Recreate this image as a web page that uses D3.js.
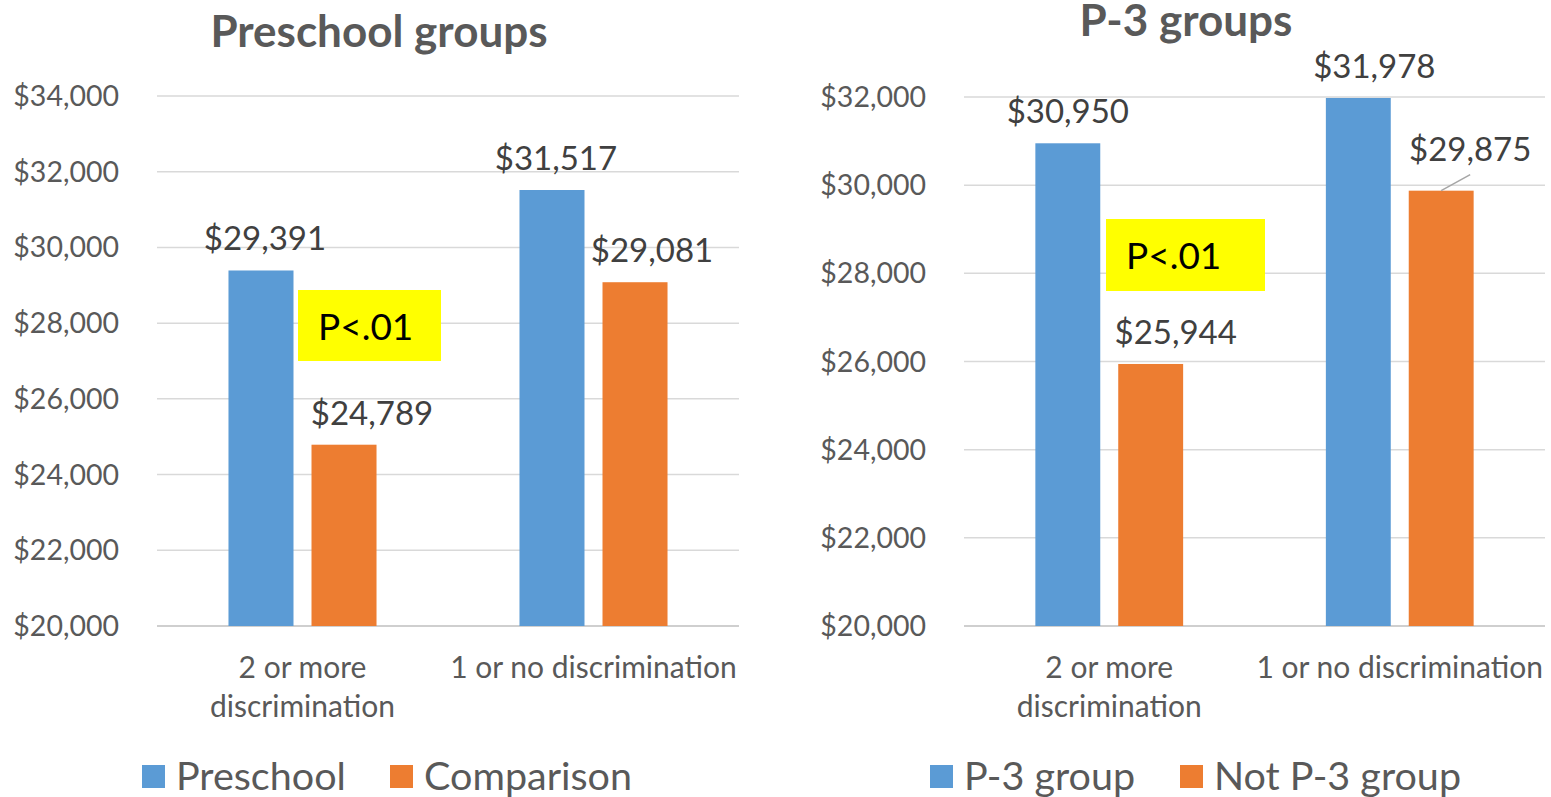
<!DOCTYPE html>
<html>
<head>
<meta charset="utf-8">
<script src="https://cdn.jsdelivr.net/npm/d3@7"></script>
<style>
  body { margin: 0; background: #fff; }
  text { font-family: Lato, "Open Sans", sans-serif; }
</style>
</head>
<body>
<svg id="chart" width="1551" height="797"></svg>
<script>
// data
const categories = ["2 or more discrimination", "1 or no discrimination"];
const preschoolSeries = ["Preschool", "Comparison"];
const preschoolValues = [[29391, 24789], [31517, 29081]];
const p3Series = ["P-3 group", "Not P-3 group"];
const p3Values = [[30950, 25944], [31978, 29875]];
const preschoolTicks = [20000, 22000, 24000, 26000, 28000, 30000, 32000, 34000];
const p3Ticks = [20000, 22000, 24000, 26000, 28000, 30000, 32000];
const colors = ["#5b9bd5", "#ed7d31"];

const svg = d3.select("#chart");
const fmt = d => "$" + d3.format(",")(d);

function drawPanel(opts) {
    const g = svg.append("g");
    const y = d3.scaleLinear().domain(opts.domain).range([626, opts.top]);
    const x0 = d3.scaleBand().domain(categories).range([opts.left, opts.right]);
    const x1 = d3.scaleBand().domain(opts.series).range([0, x0.bandwidth()])
        .paddingInner(18 / 83).paddingOuter(0.861);

    // gridlines
    g.selectAll(".grid").data(opts.ticks).join("line")
        .attr("x1", opts.left).attr("x2", opts.right)
        .attr("y1", d => y(d)).attr("y2", d => y(d))
        .attr("stroke", d => d == opts.domain[0] ? "#bfbfbf" : "#d9d9d9")
        .attr("stroke-width", 1.5);

    // y tick labels
    g.selectAll(".ytick").data(opts.ticks).join("text")
        .attr("x", opts.left - 38).attr("y", d => y(d) + 10)
        .attr("text-anchor", "end")
        .attr("font-size", 28.5).attr("fill", "#595959")
        .text(fmt);

    // bars
    const groups = g.selectAll(".cat").data(opts.values).join("g")
        .attr("transform", (d, i) => `translate(${x0(categories[i])},0)`);
    groups.selectAll("rect").data(d => d).join("rect")
        .attr("x", (d, j) => x1(opts.series[j]))
        .attr("width", x1.bandwidth())
        .attr("y", d => y(d))
        .attr("height", d => 626 - y(d))
        .attr("fill", (d, j) => colors[j]);

    // data labels
    groups.each(function(vals, i) {
        vals.forEach((v, j) => {
            const off = opts.labelOffsets[i][j];
            d3.select(this).append("text")
                .attr("x", x1(opts.series[j]) + x1.bandwidth() / 2 + off[0])
                .attr("y", y(v) - 20 + off[1])
                .attr("text-anchor", "middle")
                .attr("font-size", 33).attr("fill", "#404040")
                .text(fmt(v));
        });
    });

    // category labels
    const catLines = [["2 or more", "discrimination"], ["1 or no discrimination"]];
    categories.forEach((c, i) => {
        const t = g.append("text")
            .attr("x", x0(c) + x0.bandwidth() / 2).attr("y", 678)
            .attr("text-anchor", "middle")
            .attr("font-size", 30).attr("fill", "#595959");
        catLines[i].forEach((ln, k) => {
            t.append("tspan").attr("x", x0(c) + x0.bandwidth() / 2)
                .attr("dy", k == 0 ? 0 : 39).text(ln);
        });
    });

    // title
    g.append("text")
        .attr("x", opts.titleX).attr("y", opts.titleY)
        .attr("text-anchor", "middle")
        .attr("font-size", 44).attr("font-weight", "bold").attr("fill", "#595959")
        .text(opts.title);

    // significance box
    g.append("rect")
        .attr("x", opts.pBox[0]).attr("y", opts.pBox[1])
        .attr("width", opts.pBox[2]).attr("height", opts.pBox[3])
        .attr("fill", "#ffff00");
    g.append("text")
        .attr("x", opts.pBox[0] + 20).attr("y", opts.pBox[1] + 50)
        .attr("font-size", 37).attr("fill", "#000")
        .text("P<.01");

    // legend
    opts.series.forEach((s, j) => {
        const lx = opts.legendX[j];
        g.append("rect").attr("x", lx).attr("y", 765)
            .attr("width", 23).attr("height", 23).attr("fill", colors[j]);
        g.append("text").attr("x", lx + 34).attr("y", 790)
            .attr("font-size", 39.5).attr("fill", "#595959").text(s);
    });

    return { g, y, x0, x1 };
}

drawPanel({
    title: "Preschool groups", titleX: 379, titleY: 47,
    series: preschoolSeries, values: preschoolValues,
    domain: [20000, 34000], ticks: preschoolTicks, top: 96,
    left: 157, right: 739,
    labelOffsets: [[[4, 0], [28, 0]], [[4, 0], [17, 0]]],
    pBox: [298, 290, 143, 71],
    legendX: [142, 390]
});

const right = drawPanel({
    title: "P-3 groups", titleX: 1186, titleY: 36,
    series: p3Series, values: p3Values,
    domain: [20000, 32000], ticks: p3Ticks, top: 97,
    left: 964, right: 1545,
    labelOffsets: [[[0, 0], [25, 0]], [[16, 0], [29, -10]]],
    pBox: [1106, 219, 159, 72],
    legendX: [930, 1180]
});

// leader line for the shifted $29,875 label
const lbx = right.x0(categories[1]) + right.x1(p3Series[1]) + right.x1.bandwidth() / 2;
const lby = right.y(p3Values[1][1]);
right.g.append("line")
    .attr("x1", lbx).attr("y1", lby)
    .attr("x2", lbx + 29).attr("y2", lby - 16)
    .attr("stroke", "#a6a6a6").attr("stroke-width", 1.5);
</script>
</body>
</html>
